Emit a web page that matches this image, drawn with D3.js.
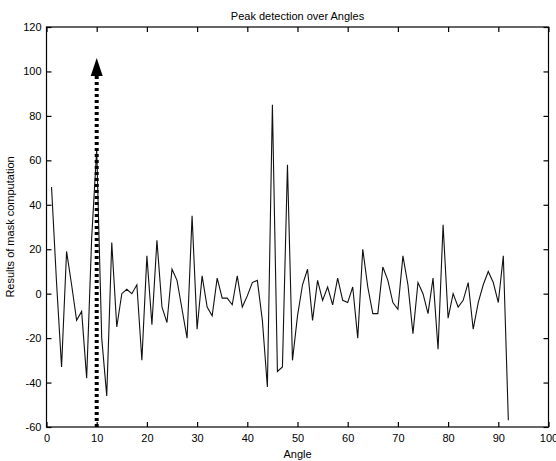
<!DOCTYPE html>
<html>
<head>
    <meta charset="utf-8">
    <title></title>
    <script src="https://d3js.org/d3.v7.min.js"></script>
    <style>
        body { margin: 0; background: #fff; }
        text { font-family: "Liberation Sans", Arial, sans-serif; fill: #000; }
    </style>
</head>
<body>
    <svg id="chart" width="556" height="461"></svg>

    <script>
    // values, one per degree
    let angles = d3.range(1, 93);
    let results = [48, 5, -33, 19, 4, -12, -8, -38, 25, 65,
                   -20, -46, 23, -15, 0, 2, 0, 4, -30, 17,
                   -14, 24, -6, -13, 11, 6, -7, -20, 35, -16,
                   8, -6, -10, 7, -2, -2, -5, 8, -6, -1,
                   5, 6, -12, -42, 85, -35, -33, 58, -30, -10,
                   4, 11, -12, 6, -3, 3, -5, 7, -3, -4,
                   3, -20, 20, 3, -9, -9, 12, 6, -4, -7,
                   17, 4, -18, 5, 0, -9, 7, -25, 31, -11,
                   0, -6, -3, 5, -16, -4, 4, 10, 5, -4,
                   17, -57];
    let xTicks = [0, 10, 20, 30, 40, 50, 60, 70, 80, 90, 100];
    let yTicks = [-60, -40, -20, 0, 20, 40, 60, 80, 100, 120];
    // the marked peak (dotted arrow)
    let peakAngle = 10;
    let arrowFrom = -60, arrowTo = 106;

    let svg = d3.select("#chart");

    let x = d3.scaleLinear().domain([0, 100]).range([46.5, 548.5]),
        y = d3.scaleLinear().domain([-60, 120]).range([427, 27]);

    // frame
    svg.append("rect")
        .attr("x", x(0)).attr("y", y(120))
        .attr("width", x(100) - x(0)).attr("height", y(-60) - y(120))
        .attr("fill", "none").attr("stroke", "#000").attr("stroke-width", 1.2);

    // axes, ticks pointing inwards like matlab
    let tk = 5;
    let plain = d => String(d);   // hyphen minus, as in the scan
    svg.append("g").attr("transform", "translate(0," + y(-60) + ")")
        .call(d3.axisBottom(x).tickValues(xTicks).tickFormat(plain).tickSizeInner(-tk).tickSizeOuter(0).tickPadding(7))
        .call(g => g.select(".domain").remove());
    svg.append("g").attr("transform", "translate(0," + y(120) + ")")
        .call(d3.axisTop(x).tickValues(xTicks).tickSizeInner(-tk).tickSizeOuter(0).tickFormat(""))
        .call(g => g.select(".domain").remove());
    svg.append("g").attr("transform", "translate(" + x(0) + ",0)")
        .call(d3.axisLeft(y).tickValues(yTicks).tickFormat(plain).tickSizeInner(-tk).tickSizeOuter(0).tickPadding(5))
        .call(g => g.select(".domain").remove());
    svg.append("g").attr("transform", "translate(" + x(100) + ",0)")
        .call(d3.axisRight(y).tickValues(yTicks).tickSizeInner(-tk).tickSizeOuter(0).tickFormat(""))
        .call(g => g.select(".domain").remove());

    svg.selectAll(".tick text")
        .attr("font-size", 11)
        .attr("font-family", "Liberation Sans, Arial, sans-serif");
    svg.selectAll(".tick line").attr("stroke", "#000").attr("stroke-width", 1.2);

    // data line
    let line = d3.line().x((d, i) => x(angles[i])).y(d => y(d));
    svg.append("path")
        .datum(results)
        .attr("d", line)
        .attr("fill", "none")
        .attr("stroke", "#111")
        .attr("stroke-width", 1.1)
        .attr("stroke-linejoin", "miter");

    // dotted arrow at the detected peak
    svg.append("line")
        .attr("x1", x(peakAngle)).attr("x2", x(peakAngle))
        .attr("y1", y(arrowFrom)).attr("y2", y(arrowTo) + 14)
        .attr("stroke", "#000").attr("stroke-width", 4)
        .attr("stroke-dasharray", "3,3");
    let tipX = x(peakAngle), tipY = y(arrowTo);
    svg.append("path")
        .attr("d", "M" + tipX + "," + tipY + "L" + (tipX - 6) + "," + (tipY + 18) + "L" + (tipX + 6) + "," + (tipY + 18) + "Z")
        .attr("fill", "#000");

    // titles
    svg.append("text")
        .attr("x", (x(0) + x(100)) / 2).attr("y", 20)
        .attr("text-anchor", "middle").attr("font-size", 11)
        .text("Peak detection over Angles");
    svg.append("text")
        .attr("x", (x(0) + x(100)) / 2).attr("y", 458)
        .attr("text-anchor", "middle").attr("font-size", 11)
        .text("Angle");
    svg.append("text")
        .attr("transform", "translate(14," + (y(30)) + ") rotate(-90)")
        .attr("text-anchor", "middle").attr("font-size", 11)
        .text("Results of mask computation");
    </script>
</body></html>
